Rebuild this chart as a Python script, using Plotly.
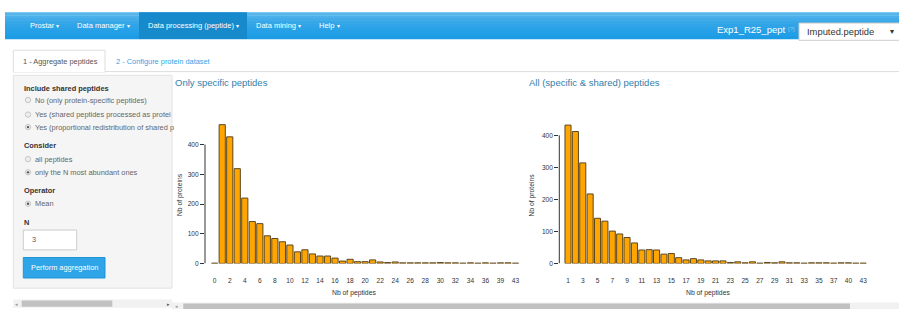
import plotly.graph_objects as go

# ---------------- data ----------------
spec_peptides = [0, 1, 2, 3, 4, 5, 6, 7, 8, 9, 10, 11, 12, 13, 14, 15, 16, 17, 18, 19, 20,
                 21, 22, 23, 24, 25, 26, 27, 28, 29, 30, 31, 32, 33, 34, 35, 36, 37, 39, 40, 43]
spec_proteins = [1, 467, 426, 319, 220, 141, 134, 93, 84, 73, 62, 39, 46, 32, 25, 25, 18, 8, 14, 6, 6,
                 12, 5, 3, 5, 2, 2, 2, 2, 2, 3, 2, 2, 1, 2, 1, 2, 1, 2, 2, 1]

all_peptides = [1, 2, 3, 4, 5, 6, 7, 8, 9, 10, 11, 12, 13, 14, 15, 16, 17, 18, 19, 20, 21,
                22, 23, 24, 25, 26, 27, 28, 29, 30, 31, 32, 33, 34, 35, 36, 37, 39, 40, 42, 43]
all_proteins = [432, 412, 314, 217, 141, 132, 101, 92, 81, 64, 42, 43, 42, 29, 31, 18, 11, 15, 11, 8, 8,
                8, 3, 5, 2, 5, 1, 3, 2, 5, 2, 2, 1, 2, 2, 2, 1, 2, 2, 1, 1]

y_ticks = [0, 100, 200, 300, 400]

nav_items = ["Prostar", "Data manager", "Data processing (peptide)", "Data mining", "Help"]
tab_labels = ["1 - Aggregate peptides", "2 - Configure protein dataset"]

W, H = 899, 312
FONT = "Liberation Sans, Arial, Helvetica, sans-serif"
BAR_FILL = "#FFA500"
BAR_LINE = "#5a4826"
AX = "#333333"


def px(x):
    return x / W


def py(y):
    return 1 - y / H


fig = go.Figure()

spec_lbl = [str(v) for v in spec_peptides]
all_lbl = [str(v) for v in all_peptides]

fig.add_trace(go.Bar(x=spec_lbl, y=spec_proteins, xaxis="x", yaxis="y",
                     marker=dict(color=BAR_FILL, line=dict(color=BAR_LINE, width=1)),
                     hoverinfo="x+y", showlegend=False))
fig.add_trace(go.Bar(x=all_lbl, y=all_proteins, xaxis="x2", yaxis="y2",
                     marker=dict(color=BAR_FILL, line=dict(color=BAR_LINE, width=1)),
                     hoverinfo="x+y", showlegend=False))

shapes = []
ann = []


def rect(x0, y0, x1, y1, fill, line=None, lw=0, layer="below"):
    shapes.append(dict(type="rect", xref="paper", yref="paper",
                       x0=px(x0), x1=px(x1), y0=py(y1), y1=py(y0),
                       fillcolor=fill, line=dict(color=line or fill, width=lw), layer=layer))


def hline(x0, x1, y, color, lw=1):
    shapes.append(dict(type="line", xref="paper", yref="paper",
                       x0=px(x0), x1=px(x1), y0=py(y), y1=py(y),
                       line=dict(color=color, width=lw), layer="below"))


def text(x, y, s, size=7.4, color="#555555", anchor="left", bold=False, angle=0):
    if bold:
        s = "<b>" + s + "</b>"
    ann.append(dict(x=px(x), y=py(y), xref="paper", yref="paper", text=s,
                    showarrow=False, xanchor=anchor, yanchor="middle", textangle=angle,
                    font=dict(family=FONT, size=size, color=color), borderpad=0))


def circle(cx, cy, r, fill, line, lw=0.8):
    shapes.append(dict(type="circle", xref="paper", yref="paper",
                       x0=px(cx - r), x1=px(cx + r), y0=py(cy + r), y1=py(cy - r),
                       fillcolor=fill, line=dict(color=line, width=lw), layer="above"))


# ---------------- navbar ----------------
grad = ["#56b5eb", "#4cb0ea", "#42abe9", "#38a7e8", "#30a4e7", "#2aa2e7", "#25a0e6", "#209ee6", "#1d9ce5"]
nav_top, nav_bot = 12.3, 39.3
step = (nav_bot - nav_top) / len(grad)
for i, c in enumerate(grad):
    rect(5, nav_top + i * step, W + 1, nav_top + (i + 1) * step + 0.3, c)
rect(139, nav_top, 247, nav_bot, "#178acc")
nav_x = [29, 76.3, 146.7, 255, 317.7]
for x, s in zip(nav_x, nav_items):
    text(x, 26, s + " <span style='font-size:6px'>▾</span>", size=7.5, color="#ffffff")

text(715.7, 29.5, "Exp1_R25_pept", size=9.5, color="#ffffff")
text(787, 29.5, "[?]", size=6, color="#8cc4ea")
rect(799, 23.3, 905, 40.7, "#ffffff", "#cccccc", 1)
text(805.7, 32.3, "Imputed.peptide", size=9.4, color="#333333")
text(892, 32, "▾", size=8, color="#333333", anchor="center")

# ---------------- tabs ----------------
hline(105, W, 72.3, "#dddddd")
rect(13.3, 50.7, 105, 72.8, "#ffffff", "#dddddd", 1)
hline(13.8, 104.5, 72.3, "#ffffff", 1.5)
text(22, 61.7, tab_labels[0], size=7.4, color="#555555")
text(115, 61.7, tab_labels[1], size=7.4, color="#2fa4e7")

# ---------------- sidebar ----------------
rect(13.3, 76, 172, 291, "#f5f5f5", "#e3e3e3", 1)
text(23.3, 89, "Include shared peptides", size=7.4, color="#333333", bold=True)
radio_rows = [
    (101, "No (only protein-specific peptides)", False),
    (115.7, "Yes (shared peptides processed as protei", False),
    (128.3, "Yes (proportional redistribution of shared p", True),
]
for y, s, sel in radio_rows:
    circle(28, y, 2.7, "#eeeeee", "#bbbbbb")
    if sel:
        circle(28, y, 1.2, "#555555", "#555555", 0)
    text(34.3, y, s, size=7.4, color="#666666")
text(23.3, 147, "Consider", size=7.4, color="#333333", bold=True)
for y, s, sel in [(160.7, "all peptides", False), (174, "only the N most abundant ones", True)]:
    circle(28, y, 2.7, "#eeeeee", "#bbbbbb")
    if sel:
        circle(28, y, 1.2, "#555555", "#555555", 0)
    text(34.3, y, s, size=7.4, color="#666666")
text(23.3, 192.3, "Operator", size=7.4, color="#333333", bold=True)
circle(28, 205.7, 2.7, "#eeeeee", "#bbbbbb")
circle(28, 205.7, 1.2, "#555555", "#555555", 0)
text(34.3, 205.7, "Mean", size=7.4, color="#666666")
text(23.3, 224.3, "N", size=7.4, color="#333333", bold=True)
rect(23.3, 232.3, 76.7, 252.3, "#ffffff", "#cccccc", 1)
text(30.7, 242, "3", size=7.4, color="#555555")
rect(23.3, 260, 105, 280.7, "#2fa4e7", "#1f95d8", 1)
text(64.2, 270.3, "Perform aggregation", size=7.4, color="#ffffff", anchor="center")

# sidebar scrollbar
rect(13.3, 302.3, 172, 310.7, "#f1f1f1")
rect(21.7, 303.3, 112.3, 309.7, "#c1c1c1")
text(16.5, 306.5, "◂", size=5, color="#999999", anchor="center")
text(168, 306.5, "▸", size=5, color="#555555", anchor="center")

# main scrollbar
rect(172, 305.5, W, 312, "#f1f1f1")
rect(183.3, 306.5, 850, 312, "#c1c1c1")
text(176.5, 308.5, "◂", size=5, color="#999999", anchor="center")

# ---------------- chart titles ----------------
text(174, 83.3, "Only specific peptides", size=9.5, color="#317eac")
text(527.7, 83.3, "All (specific & shared) peptides", size=9.5, color="#317eac")

# axis titles
text(180, 197, "Nb of proteins", size=6.8, color=AX, anchor="center", angle=-90)
text(532.5, 197, "Nb of proteins", size=6.8, color=AX, anchor="center", angle=-90)
text(354.4, 296, "Nb of peptides", size=6.8, color=AX, anchor="center")
text(707.8, 296, "Nb of peptides", size=6.8, color=AX, anchor="center")

# R-style y axis lines (0 to 400)
for xr, yr in (("x domain", "y"), ("x2 domain", "y2")):
    shapes.append(dict(type="line", xref=xr, yref=yr, x0=0, x1=0, y0=y_ticks[0], y1=y_ticks[-1],
                       line=dict(color=AX, width=1), layer="above"))

tickfont = dict(family=FONT, size=6.6, color=AX)
common_x = dict(type="category", showgrid=False, zeroline=False, showline=False, ticks="",
                tickfont=tickfont, tickangle=0, ticklabelstandoff=12, fixedrange=True)
common_y = dict(showgrid=False, zeroline=False, showline=False, ticks="outside", ticklen=4,
                tickcolor=AX, tickwidth=1, tickmode="array", tickvals=y_ticks,
                tickfont=tickfont, fixedrange=True)

fig.update_layout(
    width=W, height=H, autosize=False,
    margin=dict(l=0, r=0, t=0, b=0, pad=0),
    paper_bgcolor="#ffffff", plot_bgcolor="rgba(0,0,0,0)",
    bargap=0.18, showlegend=False,
    xaxis=dict(common_x, domain=[px(205), px(525)], range=[-1.29, 41.26], anchor="y",
               categoryorder="array", categoryarray=spec_lbl,
               tickmode="array", tickvals=spec_lbl[::2], ticktext=spec_lbl[::2]),
    yaxis=dict(common_y, domain=[46 / H, 190 / H], range=[0, 480], anchor="x"),
    xaxis2=dict(common_x, domain=[px(559.3), px(880)], range=[-1.18, 42.28], anchor="y2",
                categoryorder="array", categoryarray=all_lbl,
                tickmode="array", tickvals=all_lbl[::2], ticktext=all_lbl[::2]),
    yaxis2=dict(common_y, domain=[46 / H, 191.5 / H], range=[0, 450], anchor="x2"),
    shapes=shapes, annotations=ann,
)

fig.write_html("out.html", config={"displayModeBar": False},
               post_script="document.body.style.margin='0px';document.body.style.overflow='hidden';")
